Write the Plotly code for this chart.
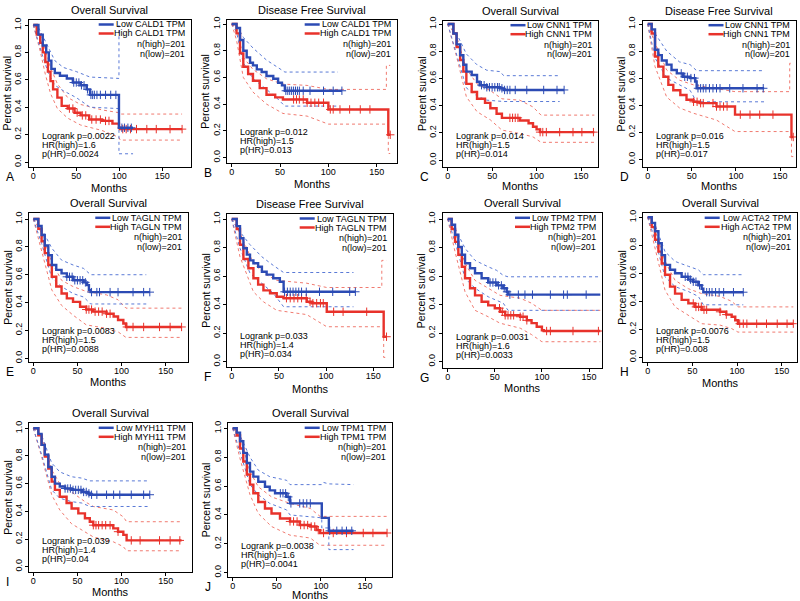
import plotly.graph_objects as go

# ---------------- text values ----------------
LETTERS = ["A", "B", "C", "D", "E", "F", "G", "H", "I", "J"]
TITLES = ["Overall Survival", "Disease Free Survival", "Overall Survival", "Disease Free Survival",
          "Overall Survival", "Disease Free Survival", "Overall Survival", "Overall Survival",
          "Overall Survival", "Overall Survival"]
GENES = ["CALD1", "CALD1", "CNN1", "CNN1", "TAGLN", "TAGLN", "TPM2", "ACTA2", "MYH11", "TPM1"]
LOGRANK_P = ["0.0022", "0.012", "0.014", "0.016", "0.0083", "0.033", "0.0031", "0.0076", "0.039", "0.0038"]
HR_HIGH = ["1.6", "1.5", "1.5", "1.5", "1.5", "1.4", "1.6", "1.5", "1.4", "1.6"]
P_HR = ["0.0024", "0.013", "0.014", "0.017", "0.0088", "0.034", "0.0033", "0.008", "0.04", "0.0041"]
N_HIGH = [201, 201, 201, 201, 201, 201, 201, 201, 201, 201]
N_LOW = [201, 201, 201, 201, 201, 201, 201, 201, 201, 201]
X_TICKS = [0, 50, 100, 150]
Y_TICKS = [0.0, 0.2, 0.4, 0.6, 0.8, 1.0]
Y_TICK_LABELS = ["0.0", "0.2", "0.4", "0.6", "0.8", "1.0"]

# ---------------- survival data (month, survival) ----------------
# A  CALD1 OS
A_low = [(0,1.0),(6,0.93),(11,0.85),(15,0.80),(18,0.74),(21,0.68),(25,0.65),(31,0.63),(39,0.61),(46,0.58),(55,0.56),(62,0.53),(66,0.49),(99.6,0.25),(116,0.25)]
A_low_up = [(0,1.0),(6,0.98),(11,0.92),(18,0.83),(25,0.74),(35,0.69),(50,0.66),(66,0.62),(99.6,0.61),(99.6,1.0)]
A_low_dn = [(0,1.0),(6,0.87),(11,0.77),(18,0.64),(25,0.56),(35,0.52),(50,0.47),(66,0.40),(99.6,0.39),(99.6,0.06),(116,0.06)]
A_high = [(0,1.0),(4,0.93),(8,0.87),(11,0.80),(14,0.73),(17,0.66),(20,0.59),(23,0.53),(28,0.47),(33,0.41),(40,0.39),(48,0.36),(55,0.34),(65,0.31),(80,0.30),(92,0.28),(99.6,0.25),(101,0.24),(173,0.24)]
A_high_up = [(0,1.0),(8,0.93),(14,0.82),(20,0.69),(28,0.57),(40,0.47),(55,0.42),(80,0.38),(99.6,0.36),(101,0.35),(173,0.35)]
A_high_dn = [(0,1.0),(8,0.81),(14,0.64),(20,0.50),(28,0.39),(40,0.32),(55,0.27),(80,0.23),(99.6,0.18),(101,0.16),(173,0.16)]
A_low_cens = [47,50,53,56,59,63,67,69,71,74,78,84,90,96,103,106,110,114]
A_high_cens = [42,46,51,57,61,68,73,78,84,88,104,108,113,120,132,143,159,173]

# B  CALD1 DFS
B_low = [(0,1.0),(5,0.97),(8.6,0.88),(12,0.80),(15.5,0.75),(19,0.71),(22,0.69),(26,0.66),(31,0.64),(36,0.61),(43,0.59),(48,0.56),(52,0.54),(55,0.50),(114,0.50)]
B_low_up = [(0,1.0),(5,0.99),(12,0.90),(22,0.82),(36,0.73),(46,0.68),(55,0.64),(110,0.64)]
B_low_dn = [(0,1.0),(5,0.94),(12,0.71),(22,0.59),(36,0.51),(46,0.45),(55,0.385),(110,0.385)]
B_high = [(0,1.0),(5,0.93),(8.6,0.78),(12,0.68),(17,0.625),(22,0.575),(29,0.52),(36,0.47),(45,0.45),(53,0.435),(78,0.41),(100,0.36),(162,0.17),(164,0.17)]
B_high_up = [(0,1.0),(5,0.97),(12,0.75),(22,0.66),(36,0.59),(53,0.55),(78,0.54),(100,0.51),(160,0.51),(160,0.69),(164,0.69)]
B_high_dn = [(0,1.0),(5,0.88),(12,0.60),(22,0.49),(36,0.40),(53,0.33),(78,0.31),(100,0.25),(162,0.25),(162,0.03),(164,0.03)]
B_low_cens = [56,58,60,62,64,66,68,70,74,81,95,105,114]
B_high_cens = [64,67,70,74,78,82,86,90,95,102,105,112,122,133,143,164]

# C  CNN1 OS
C_low = [(0,1.0),(6.4,0.93),(10,0.85),(14,0.77),(17.6,0.70),(21,0.65),(27,0.625),(33,0.575),(36,0.55),(44,0.535),(59,0.527),(63,0.515),(131,0.515)]
C_low_up = [(0,1.0),(10,0.93),(21,0.78),(33,0.70),(44,0.66),(59,0.65),(63,0.62),(126,0.62)]
C_low_dn = [(0,1.0),(10,0.77),(21,0.53),(33,0.47),(44,0.44),(63,0.43),(126,0.43)]
C_high = [(0,1.0),(6.4,0.93),(10,0.83),(14,0.735),(17.6,0.65),(21,0.56),(27,0.50),(33,0.45),(42,0.42),(48,0.38),(55,0.34),(61,0.31),(81,0.29),(91,0.27),(96,0.245),(100,0.225),(104,0.205),(165,0.205)]
C_high_up = [(0,1.0),(10,0.91),(21,0.67),(33,0.56),(48,0.51),(61,0.45),(81,0.44),(96,0.39),(105,0.33),(165,0.33)]
C_high_dn = [(0,1.0),(10,0.76),(21,0.465),(33,0.355),(48,0.295),(61,0.22),(81,0.195),(96,0.17),(105,0.13),(165,0.13)]
C_low_cens = [38,41,44,47,50,53,56,58,61,64,67,70,76,89,108,123,131]
C_high_cens = [70,73,76,79,104,107,111,126,141,151,164]

# D  CNN1 DFS
D_low = [(0,1.0),(4.5,0.96),(8.3,0.81),(12,0.77),(16,0.73),(21.5,0.70),(27,0.66),(33,0.635),(40,0.61),(48,0.60),(54,0.575),(55.5,0.525),(132,0.525)]
D_low_up = [(0,1.0),(8.3,0.93),(21.5,0.80),(36,0.72),(48,0.70),(55.5,0.655),(132,0.655)]
D_low_dn = [(0,1.0),(8.3,0.75),(21.5,0.60),(36,0.55),(48,0.51),(55.5,0.425),(132,0.425)]
D_high = [(0,1.0),(4.5,0.93),(8.3,0.76),(12,0.685),(17.8,0.61),(23.4,0.55),(29,0.51),(37,0.475),(44,0.44),(52,0.425),(59,0.415),(78,0.39),(99,0.33),(163,0.165),(165,0.165)]
D_high_up = [(0,1.0),(8.3,0.86),(21.5,0.66),(36,0.585),(52,0.55),(78,0.525),(99,0.50),(161,0.50),(161,0.71),(165,0.71)]
D_high_dn = [(0,1.0),(8.3,0.685),(21.5,0.46),(36,0.38),(52,0.34),(78,0.29),(99,0.205),(163,0.205),(163,0.02),(165,0.02)]
D_low_cens = [38,42,45,49,53,57,60,63,66,70,74,78,82,93,108,124,131]
D_high_cens = [52,56,60,63,74,78,82,86,90,105,116,127,142,165]

# E  TAGLN OS
E_low = [(0,1.0),(5.7,0.95),(9.4,0.885),(13,0.81),(17,0.74),(21,0.67),(26,0.635),(32,0.61),(38,0.585),(45,0.56),(57,0.545),(61,0.525),(63,0.49),(65,0.475),(132,0.475)]
E_low_up = [(0,1.0),(9.4,0.93),(21,0.79),(32,0.705),(45,0.67),(57,0.645),(65,0.60),(128,0.60)]
E_low_dn = [(0,1.0),(9.4,0.825),(21,0.575),(32,0.515),(45,0.465),(57,0.44),(65,0.39),(128,0.39)]
E_high = [(0,1.0),(5.7,0.93),(9.4,0.84),(13,0.755),(17,0.67),(21,0.585),(26,0.515),(32,0.465),(38,0.43),(45,0.405),(53,0.37),(60,0.35),(68,0.335),(83,0.32),(91,0.30),(96,0.275),(102,0.25),(105,0.225),(168,0.225)]
E_high_up = [(0,1.0),(9.4,0.90),(21,0.69),(32,0.56),(45,0.515),(60,0.48),(83,0.455),(96,0.42),(105,0.36),(168,0.36)]
E_high_dn = [(0,1.0),(9.4,0.765),(21,0.49),(32,0.38),(45,0.31),(60,0.24),(83,0.215),(96,0.19),(105,0.15),(168,0.15)]
E_low_cens = [38,41,44,47,50,53,56,59,66,72,75,87,96,113,125,132]
E_high_cens = [60,63,66,70,74,78,83,87,106,113,125,143,155,168]

# F  TAGLN DFS
F_low = [(0,1.0),(5.3,0.95),(8.8,0.865),(12.4,0.795),(16,0.75),(19.4,0.71),(23,0.69),(28,0.665),(32,0.63),(37,0.61),(44,0.585),(51,0.56),(55,0.49),(131,0.49)]
F_low_up = [(0,1.0),(8.8,0.91),(19.4,0.82),(32,0.735),(44,0.675),(55,0.625),(129,0.625)]
F_low_dn = [(0,1.0),(8.8,0.795),(19.4,0.62),(32,0.55),(44,0.48),(55,0.385),(129,0.385)]
F_high = [(0,1.0),(5.3,0.93),(8.8,0.82),(12.4,0.72),(17.7,0.655),(23,0.585),(28,0.54),(33.6,0.50),(40.6,0.48),(47.7,0.455),(55,0.445),(79.5,0.42),(85,0.41),(100.7,0.35),(161,0.175),(164,0.175)]
F_high_up = [(0,1.0),(8.8,0.90),(23,0.69),(33.6,0.62),(47.7,0.57),(79.5,0.55),(100.7,0.52),(159,0.52),(159,0.71),(164,0.71)]
F_high_dn = [(0,1.0),(8.8,0.735),(23,0.49),(33.6,0.42),(47.7,0.36),(79.5,0.33),(100.7,0.245),(161,0.245),(161,0.03),(164,0.03)]
F_low_cens = [56,59,62,65,68,71,74,79,93,107,125,131]
F_high_cens = [58,62,66,70,74,79,83,86,90,94,97,108,118,143,164]

# G  TPM2 OS
G_low = [(0,1.0),(4.2,0.96),(7.8,0.89),(11.3,0.805),(15,0.75),(18.4,0.69),(23.7,0.655),(29,0.62),(36,0.585),(43,0.555),(52,0.535),(59,0.515),(62.6,0.49),(64,0.47),(162,0.47)]
G_low_up = [(0,1.0),(7.8,0.935),(18.4,0.795),(29,0.71),(43,0.665),(52,0.64),(59,0.605),(64,0.595),(162,0.595)]
G_low_dn = [(0,1.0),(7.8,0.84),(18.4,0.585),(29,0.515),(43,0.455),(52,0.43),(59,0.41),(64,0.36),(162,0.36)]
G_high = [(0,1.0),(4.2,0.93),(7.8,0.84),(11.3,0.75),(15,0.665),(18.4,0.585),(23.7,0.515),(29,0.465),(36,0.42),(43,0.395),(50,0.375),(55.5,0.35),(61,0.325),(77,0.315),(84,0.29),(89,0.27),(94.5,0.245),(100,0.22),(102,0.215),(162,0.215)]
G_high_up = [(0,1.0),(7.8,0.91),(18.4,0.69),(29,0.57),(43,0.515),(55.5,0.465),(77,0.445),(89,0.41),(100,0.36),(162,0.36)]
G_high_dn = [(0,1.0),(7.8,0.77),(18.4,0.49),(29,0.36),(43,0.315),(55.5,0.27),(77,0.235),(89,0.19),(100,0.14),(162,0.14)]
G_low_cens = [45,48,51,54,57,60,63,66,75,82,90,109,123,127,147]
G_high_cens = [55,58,61,64,67,70,77,80,84,105,109,133,160]

# H  ACTA2 OS
H_low = [(0,1.0),(4.5,0.96),(8.2,0.90),(12,0.815),(15.7,0.73),(19.4,0.66),(25,0.625),(30.6,0.60),(38,0.575),(45.5,0.555),(51,0.54),(56.7,0.515),(60.4,0.49),(62.3,0.465),(107,0.465)]
H_low_up = [(0,1.0),(8.2,0.945),(19.4,0.755),(30.6,0.685),(45.5,0.65),(56.7,0.625),(62.3,0.59),(107,0.59)]
H_low_dn = [(0,1.0),(8.2,0.84),(19.4,0.575),(30.6,0.505),(45.5,0.47),(56.7,0.435),(62.3,0.375),(107,0.375)]
H_high = [(0,1.0),(4.5,0.93),(8.2,0.84),(12,0.755),(15.7,0.67),(19.4,0.59),(25,0.505),(30.6,0.455),(38,0.41),(45.5,0.385),(53,0.36),(60.4,0.34),(81,0.325),(88,0.305),(94,0.29),(98,0.265),(101,0.24),(163,0.24)]
H_high_up = [(0,1.0),(8.2,0.91),(19.4,0.685),(30.6,0.55),(45.5,0.49),(60.4,0.455),(81,0.435),(94,0.40),(101,0.36),(163,0.36)]
H_high_dn = [(0,1.0),(8.2,0.78),(19.4,0.48),(30.6,0.36),(45.5,0.30),(60.4,0.24),(81,0.23),(94,0.205),(101,0.18),(163,0.18)]
H_low_cens = [42,45,48,51,54,58,66,69,72,76,80,85,96,107]
H_high_cens = [51,54,57,60,63,66,81,88,103,107,111,122,133,145,156,163]

# I  MYH11 OS
I_low = [(0,1.0),(5.7,0.96),(9.4,0.88),(13,0.81),(17,0.72),(20.8,0.65),(24.5,0.60),(30,0.58),(36,0.565),(43.4,0.555),(55,0.54),(62,0.53),(64,0.52),(132,0.52)]
I_low_up = [(0,1.0),(9.4,0.95),(20.8,0.75),(30,0.685),(43.4,0.65),(55,0.64),(64,0.62),(130,0.62)]
I_low_dn = [(0,1.0),(9.4,0.81),(20.8,0.555),(30,0.495),(43.4,0.47),(55,0.46),(64,0.435),(130,0.435)]
I_high = [(0,1.0),(5.7,0.95),(9.4,0.88),(13,0.795),(17,0.71),(20.8,0.615),(24.5,0.555),(30,0.505),(37.7,0.46),(43.4,0.42),(51,0.385),(58.5,0.35),(64,0.325),(68,0.30),(90.6,0.277),(96,0.253),(102,0.23),(105.7,0.19),(168,0.19)]
I_high_up = [(0,1.0),(9.4,0.95),(20.8,0.70),(30,0.60),(43.4,0.54),(58.5,0.47),(68,0.435),(90.6,0.41),(102,0.36),(105.7,0.325),(168,0.325)]
I_high_dn = [(0,1.0),(9.4,0.795),(20.8,0.52),(30,0.41),(43.4,0.31),(58.5,0.255),(68,0.215),(90.6,0.18),(102,0.145),(105.7,0.115),(168,0.115)]
I_low_cens = [36,39,42,45,48,51,54,57,60,63,66,72,83,91,98,111,125,132]
I_high_cens = [68,71,74,78,82,87,96,111,121,143,155,166]

# J  TPM1 OS
J_low = [(0,1.0),(4.5,0.97),(8.3,0.91),(12,0.83),(16,0.76),(19.6,0.70),(23.4,0.665),(29,0.63),(36.6,0.595),(42,0.57),(48,0.55),(61,0.525),(65,0.48),(101,0.38),(109,0.29),(137,0.29)]
J_low_up = [(0,1.0),(8.3,0.95),(19.6,0.80),(29,0.71),(42,0.665),(61,0.64),(65,0.61),(101,0.61),(103,0.625),(109,0.615),(137,0.61)]
J_low_dn = [(0,1.0),(8.3,0.84),(19.6,0.61),(29,0.54),(42,0.48),(61,0.435),(65,0.40),(101,0.38),(101,0.31),(109,0.31),(109,0.16),(137,0.16)]
J_high = [(0,1.0),(4.5,0.95),(8.3,0.86),(12,0.77),(16,0.68),(19.6,0.61),(23.4,0.55),(29,0.49),(36.6,0.445),(44,0.41),(53.6,0.375),(65,0.355),(76,0.33),(88,0.32),(95,0.295),(99,0.275),(175,0.275)]
J_high_up = [(0,1.0),(8.3,0.94),(19.6,0.70),(29,0.595),(44,0.525),(65,0.48),(88,0.445),(99,0.39),(175,0.39)]
J_high_dn = [(0,1.0),(8.3,0.79),(19.6,0.54),(29,0.41),(44,0.32),(65,0.26),(88,0.24),(99,0.19),(175,0.19)]
J_low_cens = [54,57,60,63,66,76,80,84,88,110,118,124,129,135]
J_high_cens = [65,69,73,77,81,85,89,93,97,103,114,129,148,159,175]

SERIES = [
    (A_low, A_low_up, A_low_dn, A_high, A_high_up, A_high_dn, A_low_cens, A_high_cens),
    (B_low, B_low_up, B_low_dn, B_high, B_high_up, B_high_dn, B_low_cens, B_high_cens),
    (C_low, C_low_up, C_low_dn, C_high, C_high_up, C_high_dn, C_low_cens, C_high_cens),
    (D_low, D_low_up, D_low_dn, D_high, D_high_up, D_high_dn, D_low_cens, D_high_cens),
    (E_low, E_low_up, E_low_dn, E_high, E_high_up, E_high_dn, E_low_cens, E_high_cens),
    (F_low, F_low_up, F_low_dn, F_high, F_high_up, F_high_dn, F_low_cens, F_high_cens),
    (G_low, G_low_up, G_low_dn, G_high, G_high_up, G_high_dn, G_low_cens, G_high_cens),
    (H_low, H_low_up, H_low_dn, H_high, H_high_up, H_high_dn, H_low_cens, H_high_cens),
    (I_low, I_low_up, I_low_dn, I_high, I_high_up, I_high_dn, I_low_cens, I_high_cens),
    (J_low, J_low_up, J_low_dn, J_high, J_high_up, J_high_dn, J_low_cens, J_high_cens),
]

# ---------------- layout geometry (pixels) ----------------
# left, right, top, bottom of frame; pixel of x=0, x=150, y=1.0, y=0.0; "Months" offset
GEOM = [
    (29.0, 190.7, 20.0, 167.0, 33.3, 162.3, 25.0, 162.0, 21),
    (227.3, 396.7, 20.0, 163.0, 231.7, 376.7, 24.0, 157.5, 21),
    (443.3, 598.0, 20.7, 166.7, 447.7, 581.0, 24.0, 160.0, 19.5),
    (642.7, 796.0, 20.7, 166.7, 647.7, 780.0, 24.0, 159.3, 19.5),
    (29.3, 188.3, 213.3, 361.7, 33.3, 165.7, 219.0, 358.3, 20),
    (227.3, 392.7, 214.0, 367.0, 231.7, 373.3, 219.0, 361.7, 22),
    (442.7, 602.0, 213.3, 367.7, 447.7, 589.0, 219.0, 361.7, 20),
    (643.3, 796.7, 213.3, 361.7, 647.7, 781.7, 217.3, 357.3, 21),
    (29.3, 191.7, 423.3, 571.7, 33.3, 165.7, 428.3, 566.7, 20),
    (228.3, 391.7, 423.3, 576.7, 232.7, 365.0, 428.3, 572.7, 18.5),
]

W, H = 800, 601
FONT = "Liberation Sans, Arial, sans-serif"
BLUE = "#2c4bb4"
RED = "#e8322b"
BLUE_CI = "#5a7ad6"
RED_CI = "#f07a70"

CHAR_W = {' ': 278, '(': 333, ')': 333, '=': 584, '.': 278, 'A': 667, 'B': 667, 'C': 722, 'D': 722,
          'E': 667, 'G': 778, 'H': 722, 'I': 278, 'K': 667, 'L': 556, 'M': 833, 'N': 722, 'P': 667,
          'T': 611, 'Y': 667, 'g': 556, 'h': 556, 'i': 222}


def text_w(s, size):
    return sum(CHAR_W.get(c, 556) for c in s) * size / 1000.0


def px(x):
    return x / W


def py(y):
    return 1 - y / H


def step_value(curve, t):
    v = curve[0][1]
    for tt, ss in curve:
        if tt <= t:
            v = ss
    return v


fig = go.Figure()
annotations = []
shapes = []
layout_axes = {}

for i in range(10):
    n = i + 1
    sx = "" if n == 1 else str(n)
    xa, ya = "x" + sx, "y" + sx
    L, R, T, B, x0, x150, y1, y0, moff = GEOM[i]
    xk = (x150 - x0) / 150.0
    yk = y0 - y1
    xr = [(L - x0) / xk, (R - x0) / xk]
    yr = [(y0 - B) / yk, (y0 - T) / yk]

    low, low_up, low_dn, high, high_up, high_dn, low_c, high_c = SERIES[i]

    for ci, col in ((high_up, RED_CI), (high_dn, RED_CI), (low_up, BLUE_CI), (low_dn, BLUE_CI)):
        fig.add_trace(go.Scatter(x=[p[0] for p in ci], y=[p[1] for p in ci], mode="lines",
                                 line=dict(color=col, width=1, dash="dot"), xaxis=xa, yaxis=ya,
                                 showlegend=False, hoverinfo="skip"))
    for curve, cens, col in ((high, high_c, RED), (low, low_c, BLUE)):
        fig.add_trace(go.Scatter(x=[p[0] for p in curve], y=[p[1] for p in curve], mode="lines",
                                 line=dict(color=col, width=2.4, shape="hv"), xaxis=xa, yaxis=ya,
                                 showlegend=False))
        fig.add_trace(go.Scatter(x=cens, y=[step_value(curve, t) for t in cens], mode="markers",
                                 marker=dict(symbol="cross-thin", size=6, line=dict(width=1, color=col)),
                                 xaxis=xa, yaxis=ya, showlegend=False))

    layout_axes["xaxis" + sx] = dict(domain=[px(L), px(R)], range=xr, anchor=ya,
                                     tickvals=X_TICKS, ticks="outside", ticklen=3, tickwidth=1,
                                     tickcolor="black", showline=True, mirror=True, linecolor="black",
                                     linewidth=1, showgrid=False, zeroline=False, automargin=False,
                                     ticklabelstandoff=-3,
                                     tickfont=dict(size=9, family=FONT, color="black"))
    layout_axes["yaxis" + sx] = dict(domain=[py(B), py(T)], range=yr, anchor=xa,
                                     tickvals=Y_TICKS, ticktext=Y_TICK_LABELS, tickangle=-90,
                                     ticks="outside", ticklen=3, tickwidth=1, tickcolor="black",
                                     showline=True, mirror=True, linecolor="black", linewidth=1,
                                     showgrid=False, zeroline=False, automargin=False,
                                     tickfont=dict(size=9, family=FONT, color="black"))

    cx = (L + R) / 2
    # title
    annotations.append(dict(x=px(cx), y=py(T - 10), xref="paper", yref="paper", text=TITLES[i],
                            showarrow=False, xanchor="center", yanchor="middle",
                            font=dict(size=11, family=FONT, color="black")))
    # axis titles
    annotations.append(dict(x=px(cx), y=py(B + moff), xref="paper", yref="paper", text="Months",
                            showarrow=False, xanchor="center", yanchor="middle",
                            font=dict(size=11, family=FONT, color="black")))
    annotations.append(dict(x=px(L - 22), y=py((T + B) / 2), xref="paper", yref="paper",
                            text="Percent survival", textangle=-90, showarrow=False,
                            xanchor="center", yanchor="middle",
                            font=dict(size=10.5, family=FONT, color="black")))
    # panel letter
    annotations.append(dict(x=px(L - 25), y=py(B + 10), xref="paper", yref="paper", text=LETTERS[i],
                            showarrow=False, xanchor="left", yanchor="middle",
                            font=dict(size=12, family=FONT, color="black")))
    # legend
    low_lab = "Low %s TPM" % GENES[i]
    high_lab = "High %s TPM" % GENES[i]
    tr = R - 4
    rows = [(low_lab, T + 4.5), (high_lab, T + 13.5), ("n(high)=%d" % N_HIGH[i], T + 24),
            ("n(low)=%d" % N_LOW[i], T + 33.5)]
    for txt, yy in rows:
        annotations.append(dict(x=px(tr), y=py(yy), xref="paper", yref="paper", text=txt,
                                showarrow=False, xanchor="right", yanchor="middle",
                                font=dict(size=9, family=FONT, color="black")))
    line_end = tr - text_w(high_lab, 9) - 1.5
    for (txt, yy), col in zip(rows[:2], (BLUE, RED)):
        shapes.append(dict(type="line", xref="paper", yref="paper", x0=px(line_end - 15),
                           x1=px(line_end), y0=py(yy), y1=py(yy), line=dict(color=col, width=2.5)))
    # stats
    stats = ["Logrank p=" + LOGRANK_P[i], "HR(high)=" + HR_HIGH[i], "p(HR)=" + P_HR[i]]
    for txt, off in zip(stats, (31, 22, 13)):
        annotations.append(dict(x=px(L + 11), y=py(B - off), xref="paper", yref="paper", text=txt,
                                showarrow=False, xanchor="left", yanchor="middle",
                                font=dict(size=9, family=FONT, color="black")))

fig.update_layout(width=W, height=H, margin=dict(l=0, r=0, t=0, b=0, pad=0), paper_bgcolor="white",
                  plot_bgcolor="white", showlegend=False, annotations=annotations, shapes=shapes,
                  font=dict(family=FONT, color="black"), **layout_axes)

fig.write_html("out.html", config={"displayModeBar": False, "staticPlot": True},
               post_script="document.body.style.margin='0';document.body.style.padding='0';"
                           "document.body.style.overflow='hidden';")
